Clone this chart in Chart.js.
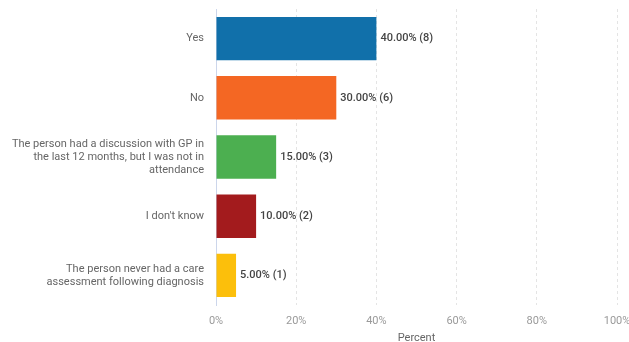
<!DOCTYPE html>
<html>
<head>
<meta charset="utf-8">
<script src="https://cdn.jsdelivr.net/npm/chart.js@4.4.1/dist/chart.umd.min.js"></script>
<style>
  html, body { margin: 0; padding: 0; background: #fff; }
  #wrap { width: 629px; height: 342px; }
</style>
</head>
<body>
<div id="wrap"><canvas id="surveyChart" width="629" height="342"></canvas></div>
<script>
// answers, one line per entry for long answers
var categories = [
    'Yes',
    'No',
    ['The person had a discussion with GP in', 'the last 12 months, but I was not in', 'attendance'],
    "I don't know",
    ['The person never had a care', 'assessment following diagnosis']
];
var percents = [40, 30, 15, 10, 5];
var counts = [8, 6, 3, 2, 1];
var barColors = ['#1170aa', '#f46723', '#4caf50', '#a31b1d', '#fcbf0b'];

var fontFamily = 'Roboto, "Noto Sans", sans-serif';

// writes "40.00% (8)" just past the end of each bar
const valueLabels = {
    id: 'valueLabels',
    afterDatasetsDraw(chart) {
        const ctx = chart.ctx;
        const meta = chart.getDatasetMeta(0);
        ctx.save();
        ctx.font = '500 11px ' + fontFamily;
        ctx.fillStyle = '#444';
        ctx.textAlign = 'left';
        ctx.textBaseline = 'middle';
        meta.data.forEach((bar, i) => {
            const txt = percents[i].toFixed(2) + '% (' + counts[i] + ')';
            ctx.fillText(txt, bar.x + 4, bar.y);
        });
        ctx.restore();
    }
};

document.addEventListener('DOMContentLoaded', function () {
    const ctx = document.getElementById('surveyChart').getContext('2d');
    new Chart(ctx, {
        type: 'bar',
        data: {
            labels: categories,
            datasets: [{
                data: percents,
                backgroundColor: barColors,
                borderWidth: 0,
                categoryPercentage: 0.733,
                barPercentage: 1
            }]
        },
        options: {
            indexAxis: 'y',
            responsive: false,
            animation: false,
            layout: {
                padding: { top: 9, right: 12, bottom: 0, left: 0 }
            },
            scales: {
                x: {
                    min: 0,
                    max: 100,
                    ticks: {
                        stepSize: 20,
                        padding: 10,
                        color: '#9a9a9a',
                        font: { family: fontFamily, size: 11 },
                        callback: function (value) { return value + '%'; }
                    },
                    grid: {
                        drawTicks: false,
                        color: function (c) {
                            return c.tick && c.tick.value === 0 ? 'rgba(0,0,0,0)' : '#e4e4e4';
                        },
                        lineWidth: 1
                    },
                    border: { display: false, dash: [3, 3] },
                    title: {
                        display: true,
                        text: 'Percent',
                        color: '#666',
                        font: { family: fontFamily, size: 11 },
                        padding: { top: 0, bottom: -3 }
                    },
                    afterFit: function (scale) {
                        scale.height = 37;
                        scale.paddingLeft = 0;
                        scale.paddingRight = 0;
                    }
                },
                y: {
                    ticks: {
                        padding: 12,
                        color: '#666',
                        font: { family: fontFamily, size: 11 },
                        lineHeight: 1.3
                    },
                    grid: { display: false, drawTicks: false },
                    border: { display: true, color: '#ccd6eb', width: 1 },
                    afterFit: function (scale) {
                        scale.width = 216;
                        scale.paddingTop = 0;
                        scale.paddingBottom = 0;
                    }
                }
            },
            plugins: {
                legend: { display: false },
                tooltip: { enabled: false }
            }
        },
        plugins: [valueLabels]
    });
});
</script>
</body>
</html>
